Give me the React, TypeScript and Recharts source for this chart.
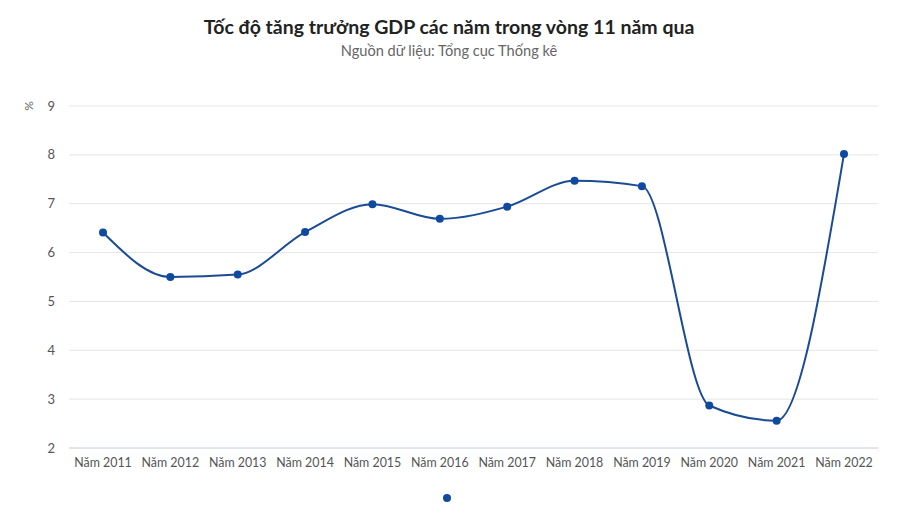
import React from 'react';
import {
  CartesianGrid,
  Legend,
  Line,
  LineChart,
  XAxis,
  YAxis,
} from 'recharts';

const years = [
  'Năm 2011', 'Năm 2012', 'Năm 2013', 'Năm 2014', 'Năm 2015', 'Năm 2016',
  'Năm 2017', 'Năm 2018', 'Năm 2019', 'Năm 2020', 'Năm 2021', 'Năm 2022',
];
const growth = [6.41, 5.5, 5.55, 6.42, 6.99, 6.69, 6.94, 7.47, 7.36, 2.87, 2.56, 8.02];
const yTicks = [2, 3, 4, 5, 6, 7, 8, 9];

const data = years.map((year, i) => ({ year, value: growth[i] }));

const FONT = 'Lato, "Open Sans", sans-serif';
const BLUE = '#1b4b93';
const DOT = '#0f4aa0';

function PercentLabel(props: any) {
  const { viewBox } = props;
  const x = 28;
  const y = viewBox.y;
  return (
    <text
      x={x}
      y={y}
      transform={`rotate(-90 ${x} ${y})`}
      textAnchor="middle"
      dominantBaseline="central"
      fill="#666"
      fontSize={12}
      fontFamily={FONT}
    >
      %
    </text>
  );
}

function LegendDot() {
  return (
    <div style={{ display: 'flex', justifyContent: 'center', paddingRight: 4 }}>
      <svg width={12} height={12}>
        <circle cx={6} cy={6} r={4} fill={DOT} />
      </svg>
    </div>
  );
}

export default function App() {
  return (
    <div
      style={{
        position: 'absolute',
        top: 0,
        left: 0,
        width: 898,
        height: 517,
        background: '#fff',
        fontFamily: FONT,
      }}
    >
      <div
        style={{
          position: 'absolute',
          top: 15,
          width: 898,
          textAlign: 'center',
          fontSize: 19.5,
          fontWeight: 700,
          color: '#222',
        }}
      >
        Tốc độ tăng trưởng GDP các năm trong vòng 11 năm qua
      </div>
      <div
        style={{
          position: 'absolute',
          top: 42,
          width: 898,
          textAlign: 'center',
          fontSize: 14.6,
          color: '#666',
        }}
      >
        Nguồn dữ liệu: Tổng cục Thống kê
      </div>
      <div style={{ position: 'absolute', top: 0, left: 0 }}>
        <LineChart
          width={898}
          height={517}
          data={data}
          margin={{ top: 106, right: 20, bottom: 27, left: 0 }}
        >
          <CartesianGrid vertical={false} stroke="#e6e6e6" />
          <XAxis
            dataKey="year"
            axisLine={{ stroke: '#ccd6eb' }}
            tickLine={false}
            tickSize={0}
            tickMargin={10}
            height={30}
            interval={0}
            padding={{ left: 34, right: 34 }}
            tick={{ fill: '#555', fontSize: 12.4, fontFamily: FONT }}
          />
          <YAxis
            width={69}
            domain={[2, 9]}
            ticks={yTicks}
            axisLine={false}
            tickLine={false}
            tickSize={0}
            tickMargin={14}
            tick={{ fill: '#555', fontSize: 13, fontFamily: FONT }}
            label={<PercentLabel />}
          />
          <Legend
            verticalAlign="bottom"
            content={<LegendDot />}
            wrapperStyle={{ bottom: 13, left: 0, width: 898 }}
          />
          <Line
            type="monotone"
            dataKey="value"
            stroke={BLUE}
            strokeWidth={2}
            dot={{ r: 4, fill: DOT, stroke: DOT, strokeWidth: 0 }}
            activeDot={false}
            isAnimationActive={false}
          />
        </LineChart>
      </div>
    </div>
  );
}
